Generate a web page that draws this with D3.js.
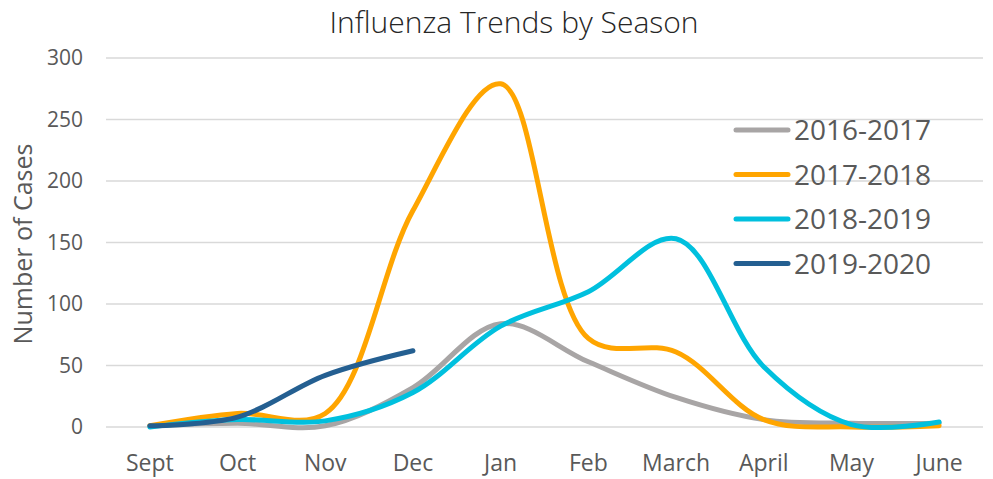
<!DOCTYPE html>
<html lang="en">
<head>
<meta charset="utf-8">
<script src="https://d3js.org/d3.v7.min.js"></script>
<style>
  body { margin: 0; background: #fff; font-family: "Open Sans", Lato, sans-serif; }
  svg { display: block; }
</style>
</head>
<body>
<script>
// chart data
var months = ["Sept", "Oct", "Nov", "Dec", "Jan", "Feb", "March", "April", "May", "June"];
var seasons = ["2016-2017", "2017-2018", "2018-2019", "2019-2020"];
var s2016 = [1, 3, 1, 32, 84, 53, 24, 6, 3, 3];
var s2017 = [1, 11, 11, 176, 279, 72, 61, 6, 0, 1];
var s2018 = [0, 6, 5, 28, 82, 110, 153, 49, 2, 4];
var s2019 = [1, 8, 42, 62];
var yTicks = [0, 50, 100, 150, 200, 250, 300];
var colors = ["#A8A5A5", "#FFA500", "#00C0DE", "#245F91"];

var width = 993, height = 479;
var svg = d3.select("body").append("svg")
    .attr("width", width)
    .attr("height", height);

var x = d3.scaleBand().domain(months).range([106, 983]);
var y = d3.scaleLinear().domain([0, 300]).range([427, 58]);

// gridlines
svg.append("g").selectAll("line")
    .data(yTicks)
    .enter().append("line")
    .attr("x1", 106).attr("x2", 983)
    .attr("y1", function(d) { return y(d); })
    .attr("y2", function(d) { return y(d); })
    .style("stroke", "#d9d9d9")
    .style("stroke-width", 1.3);

// y tick labels
svg.append("g").selectAll("text")
    .data(yTicks)
    .enter().append("text")
    .attr("x", 83)
    .attr("y", function(d) { return y(d); })
    .attr("dy", "0.35em")
    .attr("text-anchor", "end")
    .style("font-size", "21px")
    .style("fill", "#595959")
    .text(function(d) { return d; });

// x labels
svg.append("g").selectAll("text")
    .data(months)
    .enter().append("text")
    .attr("x", function(d) { return x(d) + x.bandwidth() / 2; })
    .attr("y", 471)
    .attr("text-anchor", "middle")
    .style("font-size", "23px")
    .style("fill", "#595959")
    .text(function(d) { return d; });

// axis title
svg.append("text")
    .attr("transform", "translate(32,244) rotate(-90)")
    .attr("text-anchor", "middle")
    .style("font-size", "25px")
    .style("fill", "#595959")
    .text("Number of Cases");

// title
svg.append("text")
    .attr("x", 514)
    .attr("y", 33)
    .attr("text-anchor", "middle")
    .style("font-size", "30px")
    .style("font-weight", 300)
    .style("fill", "#262626")
    .text("Influenza Trends by Season");

var series = [s2016, s2017, s2018, s2019];
var line = d3.line()
    .x(function(d, i) { return x(months[i]) + x.bandwidth() / 2; })
    .y(function(d) { return y(d); })
    .curve(d3.curveCatmullRom.alpha(0.5));

svg.append("g").selectAll("path")
    .data(series)
    .enter().append("path")
    .attr("d", line)
    .style("fill", "none")
    .style("stroke", function(d, i) { return colors[i]; })
    .style("stroke-width", 5)
    .style("stroke-linecap", "round")
    .style("stroke-linejoin", "round");

// legend
var legend = svg.append("g").selectAll("g")
    .data(seasons)
    .enter().append("g")
    .attr("transform", function(d, i) { return "translate(0," + (130 + i * 44.5) + ")"; });
legend.append("line")
    .attr("x1", 736).attr("x2", 788)
    .attr("y1", 0).attr("y2", 0)
    .style("stroke", function(d, i) { return colors[i]; })
    .style("stroke-width", 5)
    .style("stroke-linecap", "round");
legend.append("text")
    .attr("x", 794)
    .attr("dy", "0.36em")
    .style("font-size", "28px")
    .style("fill", "#595959")
    .text(function(d) { return d; });
</script>
</body>
</html>
